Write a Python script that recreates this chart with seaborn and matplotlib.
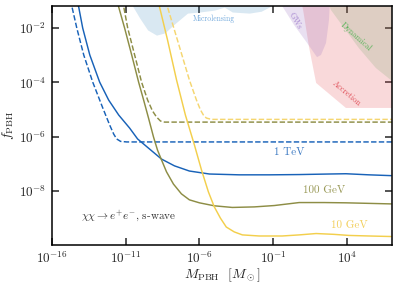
import numpy as np
import pandas as pd
import seaborn as sns
import matplotlib.pyplot as plt

# log10 values
tev_m = [-14.31, -14.18, -13.91, -13.43, -12.76, -12.15, -11.47, -10.73, -10.19, -9.38, -8.57, -7.69, -6.68, -5.32, -3.3, -1.27, 0.76, 2.78, 3.93, 5.49, 7.0]
tev_f = [-0.97, -1.23, -2.0, -2.99, -3.99, -4.65, -5.2, -5.68, -6.08, -6.45, -6.82, -7.07, -7.26, -7.37, -7.4, -7.4, -7.39, -7.37, -7.36, -7.4, -7.43]
tev_d_m = [-14.72, -14.65, -14.31, -13.84, -13.23, -12.55, -12.08, -11.81, -11.61, -11.34, -10.93, 7.05]
tev_d_f = [-0.97, -1.19, -2.0, -2.99, -3.99, -4.94, -5.57, -5.9, -6.08, -6.17, -6.19, -6.19]

gev100_m = [-11.54, -11.47, -11.07, -10.59, -10.12, -9.78, -9.45, -9.11, -8.84, -8.57, -8.23, -7.76, -7.22, -6.68, -6.0, -4.99, -3.77, -2.28, -0.93, 0.76, 2.45, 3.93, 5.49, 7.0]
gev100_f = [-0.97, -1.23, -2.0, -2.99, -3.99, -4.65, -5.31, -6.01, -6.49, -6.85, -7.29, -7.74, -8.1, -8.32, -8.43, -8.54, -8.6, -8.58, -8.53, -8.42, -8.42, -8.43, -8.45, -8.47]
gev100_d_m = [-11.2, -11.14, -10.86, -10.39, -9.92, -9.51, -9.18, -8.91, -8.64, -8.36, 7.05]
gev100_d_f = [-0.97, -1.19, -2.0, -2.99, -3.99, -4.65, -5.05, -5.27, -5.42, -5.46, -5.46]

gev10_m = [-8.77, -8.7, -8.16, -7.55, -6.95, -6.34, -5.86, -5.39, -4.99, -4.58, -4.18, -3.64, -3.09, -1.95, -0.39, 0.76, 1.91, 3.12, 4.14, 5.49, 7.0]
gev10_f = [-0.97, -1.23, -2.44, -3.91, -5.2, -6.3, -7.22, -8.03, -8.58, -8.99, -9.32, -9.5, -9.61, -9.65, -9.65, -9.61, -9.56, -9.59, -9.63, -9.65, -9.67]
gev10_d_m = [-8.23, -8.16, -7.49, -6.68, -6.2, -5.93, -5.73, -5.53, -5.19, 7.05]
gev10_d_f = [-0.97, -1.23, -2.44, -3.91, -4.65, -5.01, -5.2, -5.31, -5.36, -5.36]

# excluded regions (log10 boundaries)
micro_m = [-10.7, -10.53, -10.05, -9.51, -8.91, -8.36, -7.69, -6.81, -6.0, -4.99, -4.31, -3.77, -2.62, -1.81, -1.14, -1.0]
micro_f = [-1.0, -1.19, -1.63, -2.07, -2.26, -2.18, -1.85, -1.45, -1.41, -1.34, -1.23, -1.41, -1.45, -1.38, -1.19, -1.0]
gw_m = [-0.46, -0.39, 0.42, 1.3, 1.97, 2.24, 2.58, 2.78, 2.85]
gw_f = [-0.97, -1.19, -1.89, -2.55, -3.07, -2.99, -2.55, -1.71, -0.97]
accr_m = [0.89, 1.03, 1.43, 1.91, 3.93, 7.5, 7.5]
accr_f = [-0.97, -1.34, -2.7, -4.02, -4.94, -4.94, -0.97]
dyn_m = [2.65, 2.92, 3.66, 4.81, 5.96, 6.97, 7.5, 7.5]
dyn_f = [-0.97, -1.34, -1.89, -2.74, -3.47, -3.91, -4.13, -0.97]

blue = '#1862b8'
olive = '#8d8d45'
yellow = '#f3cf4c'

sns.set_style('ticks')
plt.rcParams['font.family'] = 'serif'
plt.rcParams['font.serif'] = ['cmr10', 'DejaVu Serif']
plt.rcParams['mathtext.fontset'] = 'cm'
plt.rcParams['axes.unicode_minus'] = False
plt.rcParams['axes.formatter.use_mathtext'] = True

fig = plt.figure(figsize=(3.99, 2.88), dpi=100)
ax = fig.add_axes([0.130, 0.149, 0.852, 0.830])
ax.set_xscale('log')
ax.set_yscale('log')

p = lambda v: 10 ** np.array(v)

ax.fill_between(p(micro_m), p(micro_f), 1, color='#1f77b4', alpha=0.17, lw=0)
ax.fill(p(accr_m), p(accr_f), color='#e8525a', alpha=0.22, lw=0)
ax.fill(p(gw_m), p(gw_f), color='#9467bd', alpha=0.2, lw=0)
ax.fill(p(dyn_m), p(dyn_f), color='#3d8c3d', alpha=0.14, lw=0)

curves = [
    (tev_m, tev_f, blue, '-'), (tev_d_m, tev_d_f, blue, '--'),
    (gev100_m, gev100_f, olive, '-'), (gev100_d_m, gev100_d_f, olive, '--'),
    (gev10_m, gev10_f, yellow, '-'), (gev10_d_m, gev10_d_f, '#f5d670', '--'),
]
for m, f, c, ls in curves:
    d = pd.DataFrame({'m': p(m), 'f': p(f)})
    sns.lineplot(data=d, x='m', y='f', color=c, linestyle=ls, lw=1.05, ax=ax, estimator=None, sort=False)

ax.text(10**-4.99, 10**-1.67, 'Microlensing', color='#72a9dc', fontsize=5.5, ha='center', va='center')
ax.text(10**0.49, 10**-1.73, 'GWs', color='#a98ad2', fontsize=6, ha='center', va='center', rotation=-60)
ax.text(10**4.61, 10**-2.33, 'Dynamical', color='#5cb45c', fontsize=6, ha='center', va='center', rotation=-42)
ax.text(10**3.98, 10**-4.39, 'Accretion', color='#e0505a', fontsize=6, ha='center', va='center', rotation=-40)
ax.text(10**0.08, 10**-6.56, '1 TeV', color='#3a78c2', fontsize=8, ha='center', va='center')
ax.text(10**2.45, 10**-7.96, '100 GeV', color='#9a9a58', fontsize=8, ha='center', va='center')
ax.text(10**4.14, 10**-9.24, '10 GeV', color='#f2cf5a', fontsize=8, ha='center', va='center')
ax.text(10**-10.8, 10**-8.91, r'$\chi\chi \to e^{+}e^{-}$, s-wave', color='#333333', fontsize=8, ha='center', va='center')

ax.set_xlim(1e-16, 10**7.04)
ax.set_ylim(10**-9.985, 10**-1.19)
ax.set_xticks([1e-16, 1e-11, 1e-6, 1e-1, 1e4])
ax.set_yticks([1e-8, 1e-6, 1e-4, 1e-2])
ax.minorticks_off()
ax.tick_params(which='major', direction='in', top=True, right=True, length=5, width=1.1, labelsize=9.5, pad=4)
for s in ax.spines.values():
    s.set_linewidth(1.1)
    s.set_color('black')
ax.set_xlabel(r'$M_{\rm PBH}\ \ [M_\odot]$', fontsize=10, labelpad=0)
ax.set_ylabel(r'$f_{\rm PBH}$', fontsize=10, labelpad=2)

fig.savefig('out.png', dpi=100)
